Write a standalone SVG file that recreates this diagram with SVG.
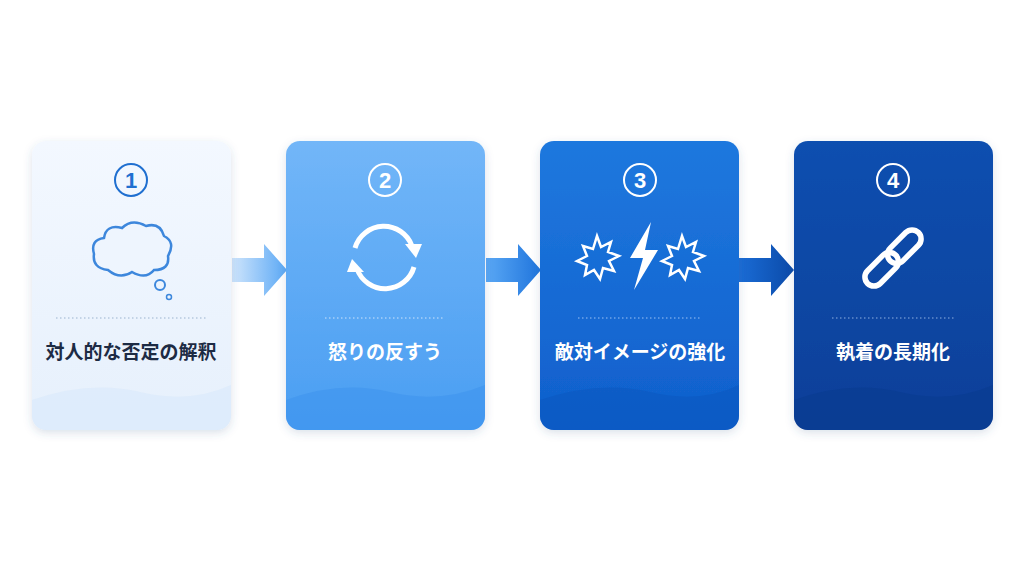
<svg xmlns="http://www.w3.org/2000/svg" width="1024" height="576" viewBox="0 0 1024 576">
<defs>
<linearGradient id="g1" x1="0" y1="0" x2="0" y2="1"><stop offset="0" stop-color="#f3f8ff"/><stop offset="1" stop-color="#e6f0fc"/></linearGradient>
<linearGradient id="g2" x1="0" y1="0" x2="0" y2="1"><stop offset="0" stop-color="#72b6f8"/><stop offset="1" stop-color="#4a9ef2"/></linearGradient>
<linearGradient id="g3" x1="0" y1="0" x2="0" y2="1"><stop offset="0" stop-color="#1f78de"/><stop offset="1" stop-color="#0f5fcc"/></linearGradient>
<linearGradient id="g4" x1="0" y1="0" x2="0" y2="1"><stop offset="0" stop-color="#0c4fb0"/><stop offset="1" stop-color="#083f98"/></linearGradient>
<linearGradient id="a1" x1="0" y1="0" x2="1" y2="0"><stop offset="0" stop-color="#cfe5fc"/><stop offset="1" stop-color="#5aa8f5"/></linearGradient>
<linearGradient id="a2" x1="0" y1="0" x2="1" y2="0"><stop offset="0" stop-color="#5aa8f5"/><stop offset="1" stop-color="#1f74dc"/></linearGradient>
<linearGradient id="a3" x1="0" y1="0" x2="1" y2="0"><stop offset="0" stop-color="#1a6cd6"/><stop offset="1" stop-color="#0b4aa8"/></linearGradient>
<filter id="sh" x="-10%" y="-10%" width="120%" height="120%"><feDropShadow dx="0" dy="3" stdDeviation="4" flood-color="#3a5a8a" flood-opacity="0.18"/></filter>
</defs>
<style>
.num{font-family:"Liberation Sans",sans-serif;font-weight:bold;font-size:22px;text-anchor:middle}
.lbl{font-family:"Noto Sans CJK JP",sans-serif;font-weight:bold;font-size:19px;text-anchor:middle}
.dot{stroke-dasharray:1.5 2.5;stroke-width:1}
.wave{opacity:0.5}
</style>
<rect width="1024" height="576" fill="#ffffff"/>
<g id="connectors">
<path d="M232 258 H264 V244 L287 270 L264 296 V282 H232 Z" fill="url(#a1)"/>
<path d="M486 258 H518 V244 L541 270 L518 296 V282 H486 Z" fill="url(#a2)"/>
<path d="M739 258 H771 V244 L794 270 L771 296 V282 H739 Z" fill="url(#a3)"/>
</g>
<g id="node1">
<rect x="32" y="141" width="199" height="289" rx="14" fill="url(#g1)" filter="url(#sh)"/>
<path d="M32 400 Q90 380 140 392 Q190 404 231 385 V416 a14 14 0 0 1 -14 14 H46 a14 14 0 0 1 -14 -14 Z" fill="#d6e8fb" class="wave"/>
<circle cx="131" cy="180" r="16" fill="none" stroke="#1f6fd0" stroke-width="2"/>
<text x="131" y="188" class="num" fill="#1f6fd0">1</text>
<path d="M108 270 Q92 268 94 254 Q90 240 104 238 Q106 224 122 228 Q132 218 146 226 Q160 222 164 236 Q176 242 168 256 Q170 270 154 270 Q146 280 132 272 Q120 280 108 270 Z" fill="#eef5fe" stroke="#3d87dc" stroke-width="2.5"/>
<circle cx="160" cy="285" r="5" fill="none" stroke="#3d87dc" stroke-width="2"/>
<circle cx="169" cy="297" r="2.5" fill="none" stroke="#3d87dc" stroke-width="1.5"/>
<line x1="56" y1="318" x2="207" y2="318" stroke="#9ab3cf" class="dot"/>
<text x="131" y="359" class="lbl" fill="#1d2b44">対人的な否定の解釈</text>
</g>
<g id="node2">
<rect x="286" y="141" width="199" height="289" rx="14" fill="url(#g2)" filter="url(#sh)"/>
<path d="M286 400 Q340 380 390 392 Q440 404 485 385 V416 a14 14 0 0 1 -14 14 H300 a14 14 0 0 1 -14 -14 Z" fill="#3b92ee" class="wave"/>
<circle cx="385" cy="180" r="16" fill="none" stroke="#ffffff" stroke-width="2"/>
<text x="385" y="188" class="num" fill="#ffffff">2</text>
<g fill="none" stroke="#ffffff" stroke-width="5">
<path d="M355 248 A30 30 0 0 1 412 246"/>
<path d="M414 267 A30 30 0 0 1 357 269"/>
</g>
<path d="M405 244 L422 244 L416 258 Z" fill="#fff"/>
<path d="M347 272 L364 272 L352 259 Z" fill="#fff"/>
<line x1="325" y1="318" x2="445" y2="318" stroke="#cfe3fb" class="dot"/>
<text x="385" y="359" class="lbl" fill="#ffffff">怒りの反すう</text>
</g>
<g id="node3">
<rect x="540" y="141" width="199" height="289" rx="14" fill="url(#g3)" filter="url(#sh)"/>
<path d="M540 400 Q600 380 650 392 Q700 404 739 385 V416 a14 14 0 0 1 -14 14 H554 a14 14 0 0 1 -14 -14 Z" fill="#0b55bd" class="wave"/>
<circle cx="640" cy="180" r="16" fill="none" stroke="#ffffff" stroke-width="2"/>
<text x="640" y="188" class="num" fill="#ffffff">3</text>
<g fill="none" stroke="#ffffff" stroke-width="2.5" stroke-linejoin="miter">
<path d="M597 236 L601 247 L611 242 L608 252 L619 256 L609 261 L614 271 L603 268 L600 279 L594 270 L585 275 L587 265 L577 261 L587 256 L583 246 L593 249 Z"/>
<path d="M682 236 L686 247 L696 242 L693 252 L704 256 L694 261 L699 271 L688 268 L685 279 L679 270 L670 275 L672 265 L662 261 L672 256 L668 246 L678 249 Z"/>
</g>
<path d="M651 222 L630 258 L643 258 L634 290 L658 250 L645 250 Z" fill="#fff"/>
<line x1="578" y1="318" x2="702" y2="318" stroke="#9cc2f2" class="dot"/>
<text x="640" y="359" class="lbl" fill="#ffffff">敵対イメージの強化</text>
</g>
<g id="node4">
<rect x="794" y="141" width="199" height="289" rx="14" fill="url(#g4)" filter="url(#sh)"/>
<path d="M794 400 Q850 380 900 392 Q950 404 993 385 V416 a14 14 0 0 1 -14 14 H808 a14 14 0 0 1 -14 -14 Z" fill="#073a8e" class="wave"/>
<circle cx="893" cy="180" r="16" fill="none" stroke="#ffffff" stroke-width="2"/>
<text x="893" y="188" class="num" fill="#ffffff">4</text>
<g fill="none" stroke="#ffffff" stroke-width="5.5" transform="rotate(-45 893 258)">
<rect x="857" y="249" width="40" height="18" rx="9"/>
<rect x="889" y="249" width="40" height="18" rx="9"/>
</g>
<line x1="832" y1="318" x2="954" y2="318" stroke="#8fb0e0" class="dot"/>
<text x="893" y="359" class="lbl" fill="#ffffff">執着の長期化</text>
</g>
</svg>
